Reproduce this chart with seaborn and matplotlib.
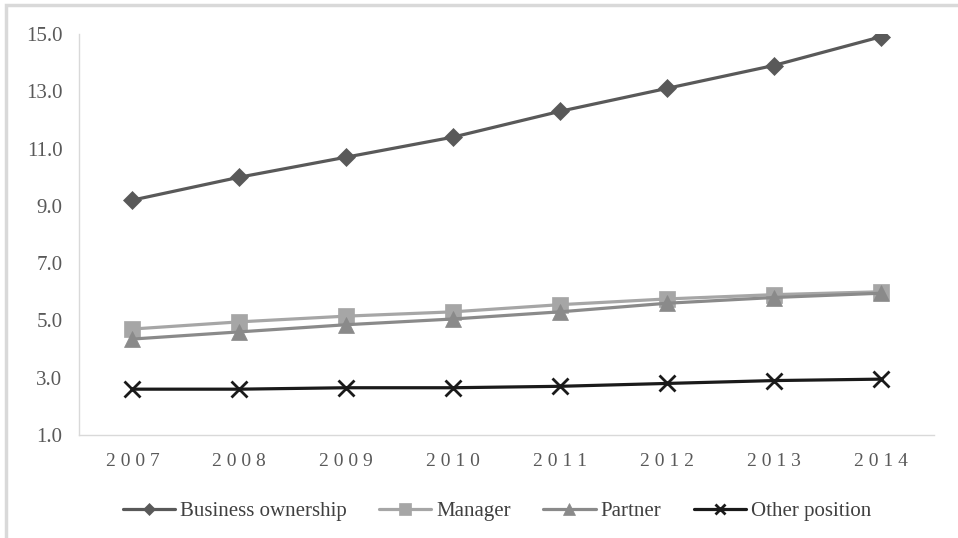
import matplotlib
matplotlib.use('Agg')

import matplotlib.pyplot as plt
import matplotlib.patches as mpatches
import pandas as pd
import seaborn as sns

years = [2007, 2008, 2009, 2010, 2011, 2012, 2013, 2014]
business_ownership = [9.2, 10.0, 10.7, 11.4, 12.3, 13.1, 13.9, 14.9]
manager = [4.7, 4.95, 5.15, 5.3, 5.55, 5.75, 5.9, 6.0]
partner = [4.35, 4.6, 4.85, 5.05, 5.3, 5.6, 5.8, 5.95]
other_position = [2.6, 2.6, 2.65, 2.65, 2.7, 2.8, 2.9, 2.95]

series_names = ['Business ownership', 'Manager', 'Partner', 'Other position']
series_values = [business_ownership, manager, partner, other_position]

# styles per series
colors = ['#595959', '#a6a6a6', '#8a8a8a', '#1a1a1a']
markers = ['D', 's', '^', 'x']
msizes = [9, 12, 12, 11]

sns.set_style("white")
plt.rcParams['font.family'] = ['Liberation Serif', 'DejaVu Serif']

rows = []
for name, vals in zip(series_names, series_values):
    for y, v in zip(years, vals):
        rows.append({'year': y, 'value': v, 'series': name})
df = pd.DataFrame(rows)

fig = plt.figure(figsize=(9.58, 5.38), dpi=100)
ax = fig.add_axes([79 / 958, 1 - 435 / 538, (934 - 79) / 958, (435 - 34) / 538])

for name, c, m, ms in zip(series_names, colors, markers, msizes):
    sub = df[df['series'] == name]
    sns.lineplot(data=sub, x='year', y='value', ax=ax, color=c, marker=m,
                 markersize=ms, linewidth=2.3, label=name,
                 markeredgecolor=c, markeredgewidth=2 if m == 'x' else 0.5)

ax.set_xlim(years[0] - 0.5, years[-1] + 0.5)
ax.set_ylim(1, 15)
ax.set_yticks([1, 3, 5, 7, 9, 11, 13, 15])
ax.set_yticklabels([f'{t:.1f}' for t in [1, 3, 5, 7, 9, 11, 13, 15]])
ax.set_xticks(years)
ax.set_xticklabels([' '.join(str(y)) for y in years])
ax.set_xlabel('')
ax.set_ylabel('')
ax.tick_params(axis='y', length=0, pad=12, labelsize=15, labelcolor='#595959')
ax.tick_params(axis='x', length=0, pad=13, labelsize=14, labelcolor='#595959')

for s in ['top', 'right']:
    ax.spines[s].set_visible(False)
for s in ['left', 'bottom']:
    ax.spines[s].set_color('#d9d9d9')
    ax.spines[s].set_linewidth(1)

ax.legend(loc='upper center', bbox_to_anchor=(0.489, -0.12), ncol=4, frameon=False,
          fontsize=15, handlelength=2.5, columnspacing=1.55, handletextpad=0.25,
          labelcolor='#404040', markerscale=0.7)

# outer chart border (cropped on right/bottom)
fig.patches.append(mpatches.Rectangle((6 / 958, -0.05), 1.1, 1 - 5 / 538 + 0.05,
                                      transform=fig.transFigure, fill=False,
                                      edgecolor='#d9d9d9', linewidth=2.5))

plt.savefig('out.png', dpi=100)
plt.close(fig)
